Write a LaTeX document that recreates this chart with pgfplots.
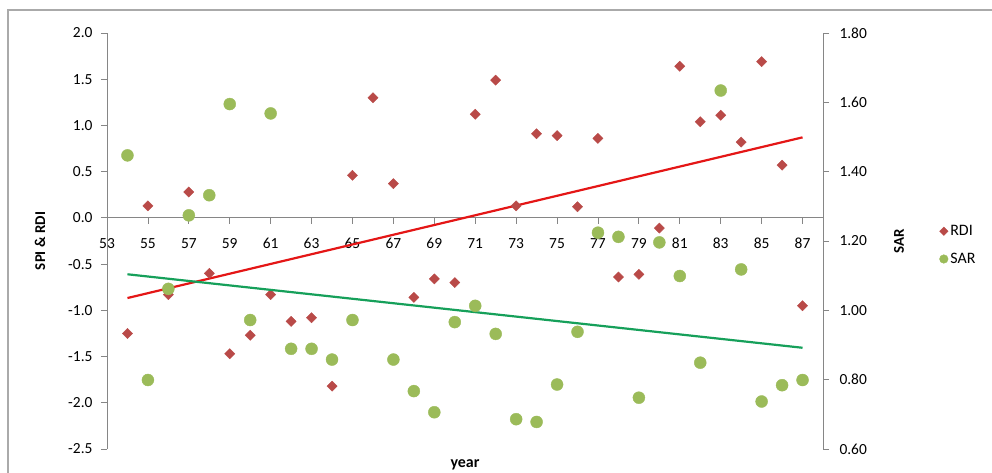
\documentclass[border=0pt]{standalone}
\usepackage{fontspec}
\setmainfont{Carlito}
\usepackage{pgfplots}
\pgfplotsset{compat=1.18}
\definecolor{rdicol}{RGB}{185,74,72}
\definecolor{sarcol}{RGB}{155,187,89}
\definecolor{trendred}{RGB}{228,22,22}
\definecolor{trendgreen}{RGB}{22,160,90}
\definecolor{axgray}{RGB}{134,134,134}
\definecolor{framegray}{RGB}{170,170,170}
\begin{document}
\begin{tikzpicture}
\useasboundingbox (0,0) rectangle (992bp,473bp);
\draw[framegray, line width=1.5bp] (8bp,-20bp) -- (8bp,463bp) -- (1020bp,463bp);
\begin{axis}[
  at={(107bp,24bp)}, anchor=south west,
  scale only axis, width=716bp, height=416bp,
  xmin=53, xmax=88, ymin=-2.5, ymax=2.0,
  axis x line=middle, axis y line=left,
  axis line style={-, axgray, line width=0.8bp},
  tick style={axgray, line width=0.8bp},
  tick align=outside, major tick length=6bp,
  xtick={53,55,...,87}, ytick={-2.5,-2,...,2},
  hide obscured x ticks=false, hide obscured y ticks=false,
  /pgf/number format/assume math mode=true,
  tick label style={font=\fontsize{15.5}{18}\selectfont, text=black},
  yticklabel={\pgfmathprintnumber[fixed, fixed zerofill, precision=1]{\tick}},
  xticklabel shift=11bp,
  yticklabel shift=5bp,
  xlabel={year}, ylabel={SPI \& RDI},
  xlabel style={at={(axis description cs:0.5,0)}, anchor=center, yshift=-16bp, font=\bfseries\fontsize{16}{18}\selectfont},
  ylabel style={at={(axis description cs:0,0.5)}, anchor=center, yshift=67bp, font=\bfseries\fontsize{15}{18}\selectfont},
  clip=false,
]
\addplot[only marks, mark=square*, mark size=3.6bp, mark options={rotate=45, fill=rdicol, draw=rdicol}] coordinates {
(54,-1.25) (55,0.13) (56,-0.83) (57,0.28) (58,-0.60) (59,-1.47) (60,-1.27) (61,-0.83)
(62,-1.12) (63,-1.08) (64,-1.82) (65,0.46) (66,1.30) (67,0.37) (68,-0.86) (69,-0.66)
(70,-0.70) (71,1.12) (72,1.49) (73,0.13) (74,0.91) (75,0.89) (76,0.12) (77,0.86)
(78,-0.64) (79,-0.61) (80,-0.11) (81,1.64) (82,1.04) (83,1.11) (84,0.82) (85,1.69)
(86,0.57) (87,-0.95)};
\addplot[trendred, line width=2.2bp] coordinates {(54,-0.867) (87,0.871)};
\end{axis}
\begin{axis}[
  at={(107bp,24bp)}, anchor=south west,
  scale only axis, width=716bp, height=416bp,
  xmin=53, xmax=88, ymin=0.6, ymax=1.8,
  axis x line=none, axis y line=right,
  axis line style={-, axgray, line width=0.8bp},
  tick style={axgray, line width=0.8bp},
  tick align=outside, major tick length=6bp,
  ytick={0.6,0.8,...,1.81},
  /pgf/number format/assume math mode=true,
  tick label style={font=\fontsize{15.5}{18}\selectfont, text=black},
  yticklabel={\pgfmathprintnumber[fixed, fixed zerofill, precision=2]{\tick}},
  yticklabel shift=7bp,
  ylabel={SAR},
  ylabel style={at={(axis description cs:1,0.5)}, anchor=center, yshift=-76bp, font=\bfseries\fontsize{15}{18}\selectfont},
  legend style={at={(axis description cs:1.158,0.49)}, anchor=west, draw=none, fill=none, font=\fontsize{16}{18}\selectfont, row sep=12bp},
  legend cell align=left,
  clip=false,
]
\addlegendimage{only marks, mark=square*, mark size=3bp, mark options={rotate=45, fill=rdicol, draw=rdicol}}
\addlegendentry{RDI}
\addplot[only marks, mark=*, mark size=6bp, mark options={fill=sarcol, draw=sarcol},
  legend image code/.code={\draw[fill=sarcol, draw=sarcol] (0.3cm,0cm) circle (4.3bp);}] coordinates {
(54,1.447) (55,0.799) (56,1.062) (57,1.274) (58,1.332) (59,1.595) (60,0.972) (61,1.568)
(62,0.889) (63,0.889) (64,0.858) (65,0.972) (67,0.858) (68,0.767) (69,0.706) (70,0.966)
(71,1.013) (72,0.932) (73,0.686) (74,0.678) (75,0.786) (76,0.938) (77,1.224) (78,1.212)
(79,0.748) (80,1.196) (81,1.099) (82,0.849) (83,1.634) (84,1.118) (85,0.737) (86,0.784)
(87,0.799)};
\addlegendentry{SAR}
\addplot[trendgreen, line width=2.2bp, forget plot] coordinates {(54,1.104) (87,0.892)};
\end{axis}
\end{tikzpicture}
\end{document}
